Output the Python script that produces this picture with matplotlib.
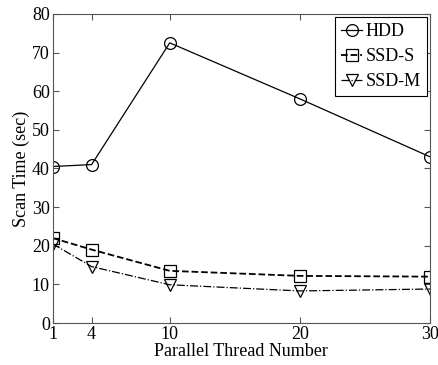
import matplotlib
matplotlib.use("Agg")
import matplotlib.pyplot as plt

plt.rcParams["font.family"] = ["Liberation Serif", "DejaVu Serif"]
plt.rcParams["mathtext.fontset"] = "stix"

threads = [1, 4, 10, 20, 30]
hdd = [40.5, 41.0, 72.5, 58.0, 43.0]
ssd_s = [22.0, 19.0, 13.5, 12.2, 12.0]
ssd_m = [20.5, 14.6, 9.9, 8.3, 8.8]

fig = plt.figure(figsize=(4.38, 3.65), dpi=100)
ax = fig.add_axes([0.12, 0.115, 0.862, 0.847])

ax.plot(threads, hdd, "-", color="black", lw=0.9, marker="o", ms=8.5,
        mfc="none", mec="black", mew=0.9, label="HDD")
ax.plot(threads, ssd_s, "--", color="black", lw=1.3, marker="s", ms=8.5,
        mfc="none", mec="black", mew=0.9, label="SSD-S")
ax.plot(threads, ssd_m, "-.", color="black", lw=0.9, marker="v", ms=8.5,
        mfc="none", mec="black", mew=0.9, label="SSD-M")

ax.set_xlim(1, 30)
ax.set_ylim(0, 80)
ax.set_xticks(threads)
ax.set_yticks(range(0, 81, 10))
ax.tick_params(direction="in", top=True, right=True, labelsize=13,
               length=4, color="#555555", pad=2)
for s in ax.spines.values():
    s.set_color("#555555")
ax.set_xlabel("Parallel Thread Number", fontsize=13, labelpad=0)
ax.set_ylabel("Scan Time (sec)", fontsize=13, labelpad=1)

leg = ax.legend(loc="upper right", fontsize=13, handlelength=1.2,
                handletextpad=0.2, borderpad=0.3, labelspacing=0.45,
                fancybox=False, framealpha=1, borderaxespad=0.2)
leg.get_frame().set_edgecolor("black")
leg.get_frame().set_linewidth(0.8)

fig.savefig("out.png", dpi=100)
